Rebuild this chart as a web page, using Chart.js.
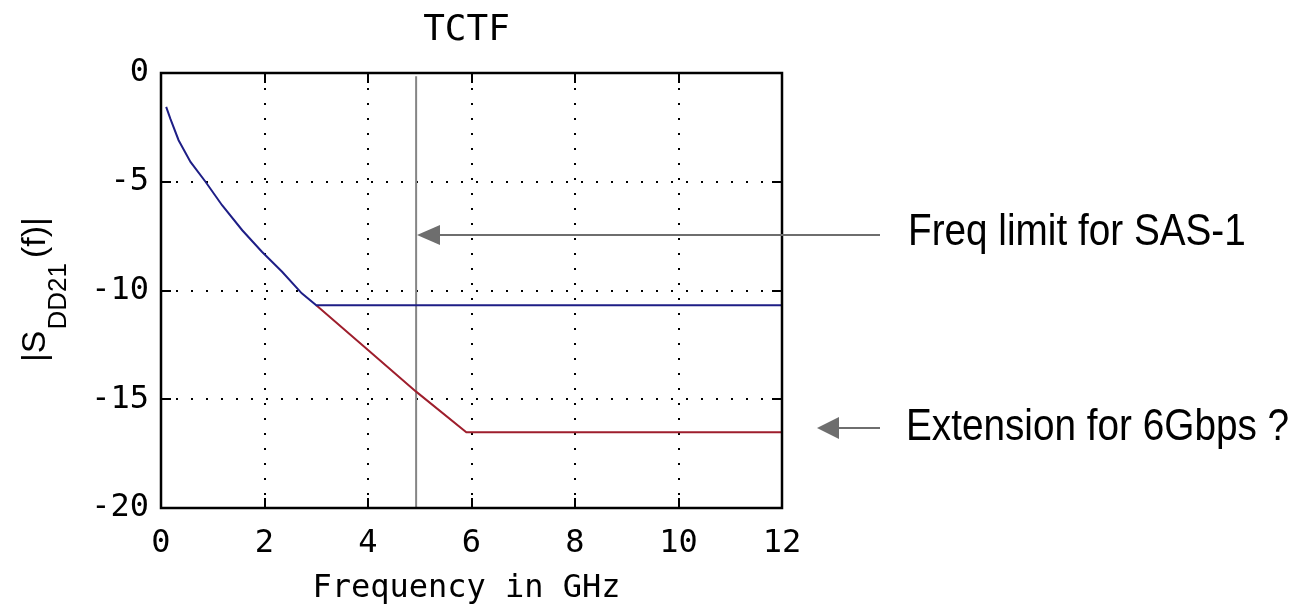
<!DOCTYPE html>
<html>
<head>
<meta charset="utf-8">
<script src="https://cdn.jsdelivr.net/npm/chart.js@4/dist/chart.umd.min.js"></script>
<style>
  html, body { margin: 0; padding: 0; background: #fff; }
  #wrap { width: 1297px; height: 613px; }
</style>
</head>
<body>
<div id="wrap"><canvas id="canvas" width="1297" height="613"></canvas></div>
<script>
// values
let freqBlue = [0.1, 0.18, 0.34, 0.57, 0.86, 1.18, 1.57, 1.95, 2.34, 2.72, 3.0, 12];
let lossBlue = [-1.56, -2.1, -3.09, -4.09, -5.0, -6.08, -7.23, -8.22, -9.14, -10.13, -10.68, -10.68];
let freqRed = [3.0, 4.0, 4.93, 5.9, 12];
let lossRed = [-10.68, -12.74, -14.65, -16.52, -16.52];
let limitFreq = 4.93;
let xTicks = [0, 2, 4, 6, 8, 10, 12];
let yTicks = [0, -5, -10, -15, -20];
let title = 'TCTF';
let xTitle = 'Frequency in GHz';
let note1 = 'Freq limit for SAS-1';
let note2 = 'Extension for 6Gbps ?';

let tickFont = 'DejaVu Sans Mono';

function pts(xs, ys) {
  return xs.map((x, i) => ({ x: x, y: ys[i] }));
}

function arrow(ctx, x0, x1, y, headLen, headHalf) {
  ctx.beginPath();
  ctx.moveTo(x0, y);
  ctx.lineTo(x1 + headLen - 2, y);
  ctx.stroke();
  ctx.beginPath();
  ctx.moveTo(x1, y);
  ctx.lineTo(x1 + headLen, y - headHalf);
  ctx.lineTo(x1 + headLen, y + headHalf);
  ctx.closePath();
  ctx.fill();
}

// frame, inward ticks, titles and the two notes
let extras = {
  id: 'extras',
  afterDraw(chart) {
    let ctx = chart.ctx;
    let a = chart.chartArea;
    let xs = chart.scales.x, ys = chart.scales.y;
    ctx.save();

    ctx.strokeStyle = '#000';
    ctx.lineWidth = 2.5;
    ctx.strokeRect(a.left, a.top, a.right - a.left, a.bottom - a.top);

    ctx.lineWidth = 2;
    ctx.beginPath();
    xTicks.slice(1, -1).forEach(v => {
      let px = Math.round(xs.getPixelForValue(v));
      ctx.moveTo(px, a.bottom); ctx.lineTo(px, a.bottom - 10);
      ctx.moveTo(px, a.top); ctx.lineTo(px, a.top + 10);
    });
    yTicks.slice(1, -1).forEach(v => {
      let py = Math.round(ys.getPixelForValue(v));
      ctx.moveTo(a.left, py); ctx.lineTo(a.left + 10, py);
      ctx.moveTo(a.right, py); ctx.lineTo(a.right - 10, py);
    });
    ctx.stroke();

    let cx = (a.left + a.right) / 2 - 5;
    ctx.fillStyle = '#000';
    ctx.textAlign = 'center';
    ctx.textBaseline = 'alphabetic';
    ctx.font = '36px "' + tickFont + '"';
    ctx.fillText(title, cx, 40);
    ctx.font = '32px "' + tickFont + '"';
    ctx.fillText(xTitle, cx, 597);

    // y title |S_DD21 (f)|, rotated
    ctx.save();
    ctx.translate(45, 362);
    ctx.rotate(-Math.PI / 2);
    ctx.textAlign = 'left';
    let big = '34px "Liberation Sans"';
    let small = '26px "Liberation Sans"';
    ctx.font = big;
    let pos = 0;
    ctx.fillText('|S', pos, 0);
    pos += ctx.measureText('|S').width + 1;
    ctx.font = small;
    ctx.fillText('DD21', pos, 21);
    pos += ctx.measureText('DD21').width + 5;
    ctx.font = big;
    ctx.fillText('(f)|', pos, 0);
    ctx.restore();

    // notes with arrows
    ctx.strokeStyle = '#6e6e6e';
    ctx.fillStyle = '#6e6e6e';
    ctx.lineWidth = 2;
    arrow(ctx, 880, 417, 235, 23, 10);
    arrow(ctx, 880, 817, 428, 22, 11);

    ctx.fillStyle = '#000';
    ctx.textAlign = 'left';
    ctx.font = '44px "Liberation Sans"';
    ctx.save();
    ctx.translate(908, 245);
    ctx.scale(0.88, 1);
    ctx.fillText(note1, 0, 0);
    ctx.restore();
    ctx.save();
    ctx.translate(906, 440);
    ctx.scale(0.88, 1);
    ctx.fillText(note2, 0, 0);
    ctx.restore();

    ctx.restore();
  }
};

let options = {
  type: 'scatter',
  data: {
    datasets: [{
      data: pts(freqBlue, lossBlue),
      showLine: true,
      borderColor: '#1e1e86',
      borderWidth: 2,
      pointRadius: 0
    }, {
      data: pts(freqRed, lossRed),
      showLine: true,
      borderColor: '#9e1e2c',
      borderWidth: 2,
      pointRadius: 0
    }, {
      data: [{ x: limitFreq, y: -0.15 }, { x: limitFreq, y: -20 }],
      showLine: true,
      borderColor: '#858585',
      borderWidth: 2,
      pointRadius: 0
    }]
  },
  options: {
    responsive: false,
    animation: false,
    layout: { padding: { top: 73, right: 515, left: 0, bottom: 0 } },
    plugins: {
      legend: { display: false },
      tooltip: { enabled: false }
    },
    scales: {
      x: {
        type: 'linear',
        min: 0, max: 12,
        afterFit: s => { s.height = 105; },
        afterBuildTicks: s => { s.ticks = xTicks.map(v => ({ value: v })); },
        grid: { color: '#000', lineWidth: 2, drawTicks: false },
        border: { display: false, dash: [2, 13] },
        ticks: { color: '#000', padding: 16, font: { family: tickFont, size: 32 } }
      },
      y: {
        type: 'linear',
        min: -20, max: 0,
        afterFit: s => { s.width = 161; },
        afterBuildTicks: s => { s.ticks = yTicks.map(v => ({ value: v })); },
        grid: { color: '#000', lineWidth: 2, drawTicks: false },
        border: { display: false, dash: [2, 13] },
        ticks: { color: '#000', padding: 12, font: { family: tickFont, size: 32 } }
      }
    }
  },
  plugins: [extras]
};

let chart = new Chart(document.getElementById('canvas'), options);
</script>
</body>
</html>
